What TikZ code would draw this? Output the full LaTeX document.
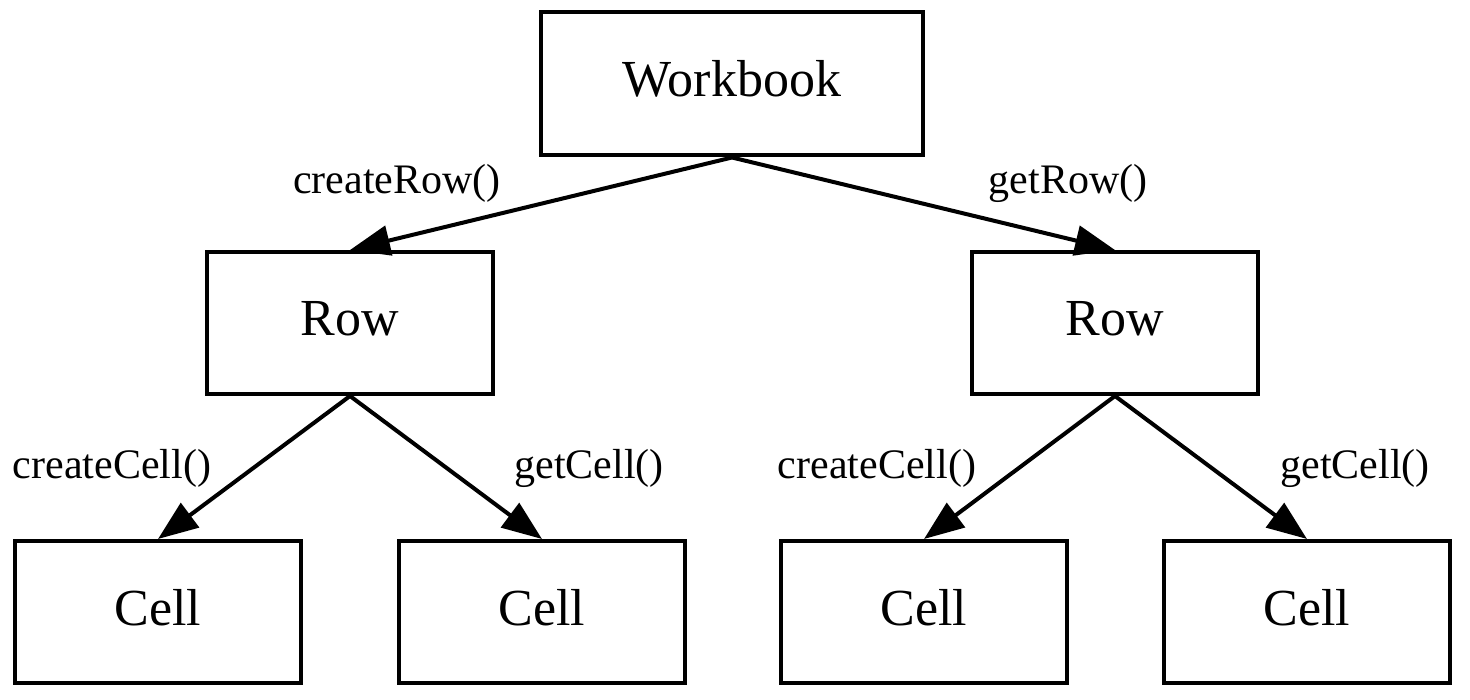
\documentclass[tikz,border=0pt]{standalone}
\usepackage{fontspec}
\setmainfont{Liberation Serif}
\usetikzlibrary{arrows.meta}

\begin{document}
\begin{tikzpicture}[x=1pt, y=-1pt, line width=4pt,
  box/.style={draw, minimum width=286pt, minimum height=142pt, inner sep=0pt,
    text height=36pt, text depth=10pt, font=\fontsize{52}{60}\selectfont},
  call/.style={font=\fontsize{42}{50}\selectfont, inner sep=0pt},
  link/.style={-{Triangle[length=40pt,width=30pt]}}]
  \useasboundingbox (0,0) rectangle (1470,700);
  \node[box, minimum width=382pt, minimum height=143pt] (wb) at (732,84) {Workbook};
  \node[box] (rowL) at (350,323) {Row};
  \node[box] (rowR) at (1115,323) {Row};
  \node[box] (cellA) at (158,612) {Cell};
  \node[box] (cellB) at (542,612) {Cell};
  \node[box] (cellC) at (924,612) {Cell};
  \node[box] (cellD) at (1307,612) {Cell};
  \draw[link] (wb.south) -- (rowL.north);
  \draw[link] (wb.south) -- (rowR.north);
  \draw[link] (rowL.south) -- (cellA.north);
  \draw[link] (rowL.south) -- (cellB.north);
  \draw[link] (rowR.south) -- (cellC.north);
  \draw[link] (rowR.south) -- (cellD.north);
  \node[call] (lblCreateRow) at (397,183) {createRow()};
  \node[call] (lblGetRow) at (1068,183) {getRow()};
  \node[call] (lblCreateCellL) at (112,468) {createCell()};
  \node[call] (lblGetCellL) at (589,468) {getCell()};
  \node[call] (lblCreateCellR) at (877,468) {createCell()};
  \node[call] (lblGetCellR) at (1355,468) {getCell()};
\end{tikzpicture}
\end{document}
